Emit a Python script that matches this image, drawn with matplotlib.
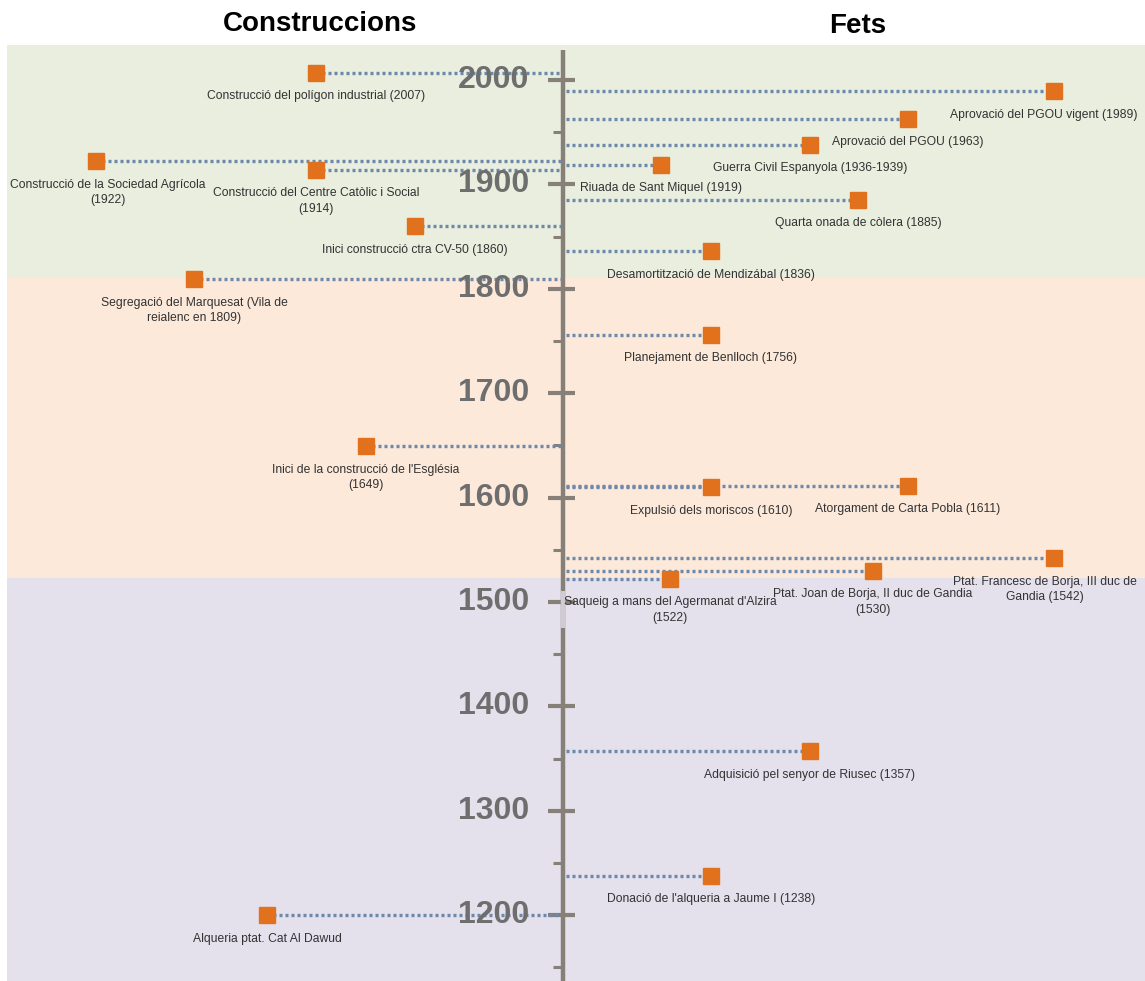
import matplotlib.pyplot as plt

# Construccions (costat esquerre)
con_labels = ['Construcció del polígon industrial (2007)',
              'Construcció de la Sociedad Agrícola\n(1922)',
              'Construcció del Centre Catòlic i Social\n(1914)',
              'Inici construcció ctra CV-50 (1860)',
              'Segregació del Marquesat (Vila de\nreialenc en 1809)',
              "Inici de la construcció de l'Església\n(1649)",
              'Alqueria ptat. Cat Al Dawud']
con_years = [2007, 1922, 1914, 1860, 1809, 1649, 1200]
con_dist = [247, 467, 247, 148, 369, 197, 296]

# Fets (costat dret)
fets_labels = ['Aprovació del PGOU vigent (1989)',
               'Aprovació del PGOU (1963)',
               'Guerra Civil Espanyola (1936-1939)',
               'Riuada de Sant Miquel (1919)',
               'Quarta onada de còlera (1885)',
               'Desamortització de Mendizábal (1836)',
               'Planejament de Benlloch (1756)',
               'Expulsió dels moriscos (1610)',
               'Atorgament de Carta Pobla (1611)',
               'Ptat. Francesc de Borja, III duc de\nGandia (1542)',
               'Ptat. Joan de Borja, II duc de Gandia\n(1530)',
               "Saqueig a mans del Agermanat d'Alzira\n(1522)",
               'Adquisició pel senyor de Riusec (1357)',
               "Donació de l'alqueria a Jaume I (1238)"]
fets_years = [1989, 1963, 1938, 1919, 1885, 1836, 1756, 1610, 1611, 1542, 1530, 1522, 1357, 1238]
fets_dist = [491, 345, 247, 98, 295, 148, 148, 148, 345, 491, 310, 107, 247, 148]

major_ticks = list(range(1200, 2001, 100))
minor_ticks = list(range(1150, 2000, 100))

# periodes de fons
bands = [(1810.3, 2033.5, '#EAEEDF'), (1523, 1810.3, '#FCE9DA'), (1100, 1523, '#E4E0EC')]

font = ['Liberation Sans', 'DejaVu Sans']
axis_col = '#868079'
line_col = '#6C88AA'
mark_col = '#E2711D'

fig = plt.figure(figsize=(11.45, 9.81), dpi=100)
ax = fig.add_axes([0, 0, 1, 1])
ax.set_xlim(-563, 582)
ax.set_ylim(1137, 2076.6)
ax.axis('off')

for lo, hi, c in bands:
    ax.axhspan(lo, hi, xmin=7 / 1145, xmax=1, color=c, zorder=0, lw=0)

# eix central
ax.plot([0, 0], [1137, 2029], color=axis_col, lw=3.2, zorder=2, solid_capstyle='butt')
ax.plot([0, 0], [1475, 1511], color='#CFCBD3', lw=3.2, zorder=2.1, solid_capstyle='butt')
for t in major_ticks:
    ax.plot([-15, 12], [t, t], color=axis_col, lw=3, zorder=2, solid_capstyle='butt')
    ax.text(-34, t, str(t), ha='right', va='center', fontsize=23, fontweight='bold',
            color='#6E6E6E', family=font, zorder=5)
for t in minor_ticks:
    ax.plot([-10, 0], [t, t], color=axis_col, lw=2.2, zorder=2, solid_capstyle='butt')

dots = (0, (0.9, 0.9))
labels = []

for lab, yr, d in zip(con_labels, con_years, con_dist):
    ax.plot([-d, -2], [yr, yr], color=line_col, lw=2.4, ls=dots, zorder=3)
    ax.plot(-d, yr, 's', ms=11.5, color=mark_col, zorder=4)
    labels.append(ax.annotate(lab, (-d, yr), xytext=(0, -12.5), textcoords='offset points',
                              ha='center', va='top', fontsize=8.7, color='#333333',
                              family=font, linespacing=1.4, zorder=6))

for lab, yr, d in zip(fets_labels, fets_years, fets_dist):
    ax.plot([3, d], [yr, yr], color=line_col, lw=2.4, ls=dots, zorder=3)
    ax.plot(d, yr, 's', ms=11.5, color=mark_col, zorder=4)
    labels.append(ax.annotate(lab, (d, yr), xytext=(0, -12.5), textcoords='offset points',
                              ha='center', va='top', fontsize=8.7, color='#333333',
                              family=font, linespacing=1.4, zorder=6))

fig.text(320 / 1145, 1 - 24 / 981, 'Construccions', ha='center', va='center', fontsize=20,
         fontweight='bold', family=font, color='black')
fig.text(858 / 1145, 1 - 26 / 981, 'Fets', ha='center', va='center', fontsize=20,
         fontweight='bold', family=font, color='black')

# mantenir les etiquetes dins de la imatge
fig.canvas.draw()
r = fig.canvas.get_renderer()
W = fig.bbox.width
for t in labels:
    bb = t.get_window_extent(r)
    dx = 0
    if bb.x0 < 10:
        dx = 10 - bb.x0
    elif bb.x1 > W - 8:
        dx = (W - 8) - bb.x1
    if dx:
        t.set_position((dx * 72 / fig.dpi, -12.5))

plt.savefig('out.png', dpi=100)
